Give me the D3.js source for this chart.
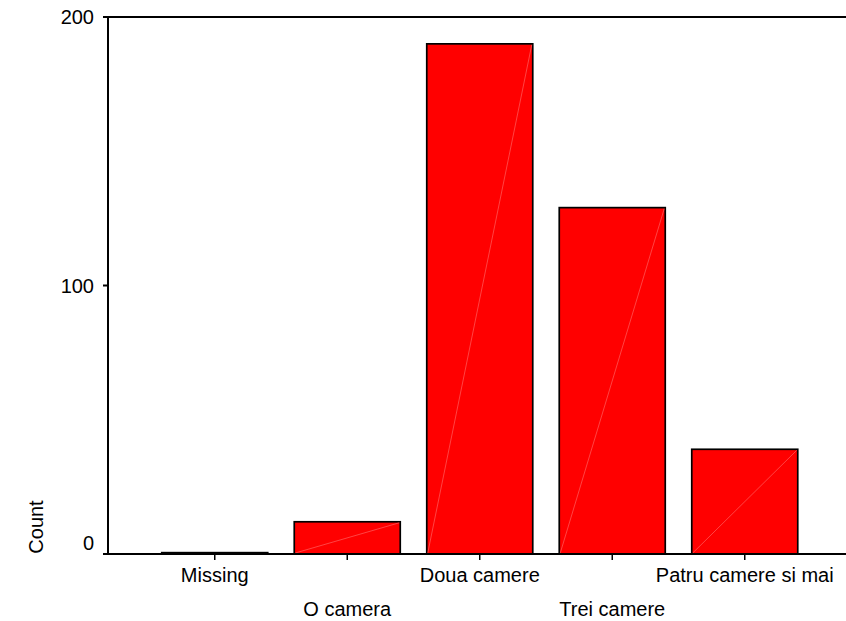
<!DOCTYPE html>
<html>
<head>
<meta charset="utf-8">
<script src="https://cdn.jsdelivr.net/npm/d3@7"></script>
<style>
  body { margin: 0; background: #fff; }
  text { font-family: Arial, "Liberation Sans", Helvetica, sans-serif; }
</style>
</head>
<body>
<div class="chart"></div>
<script>
// Data
const categories = ["Missing", "O camera", "Doua camere", "Trei camere", "Patru camere si mai"];
const counts = [0.5, 12, 190, 129, 39];
const yTicks = [0, 100, 200];

const width = 846;
const height = 621;
const axisLeft = 108;
const axisTop = 17;
const axisBottom = 554;

const svg = d3.select(".chart")
    .append("svg")
    .attr("width", width)
    .attr("height", height);

const x = d3.scaleBand()
    .domain(categories)
    .range([148.5, 811])
    .paddingInner(0.2)
    .paddingOuter(0.1);

const y = d3.scaleLinear()
    .domain([0, 200])
    .range([axisBottom, axisTop]);

const data = categories.map((c, i) => ({ cat: c, value: counts[i] }));

// bars
const bars = svg.append("g").selectAll("g")
    .data(data)
    .join("g");

bars.append("rect")
    .attr("x", d => x(d.cat))
    .attr("y", d => y(d.value))
    .attr("width", x.bandwidth())
    .attr("height", d => y(0) - y(d.value))
    .attr("fill", "#ff0000")
    .attr("stroke", "#000")
    .attr("stroke-width", 1.7);

// faint diagonal seam inside each bar
bars.filter(d => d.value > 3).append("line")
    .attr("x1", d => x(d.cat) + 1)
    .attr("y1", y(0) - 1)
    .attr("x2", d => x(d.cat) + x.bandwidth() - 1)
    .attr("y2", d => y(d.value) + 1)
    .attr("stroke", "#ff7070")
    .attr("stroke-width", 0.6);

// axis frame
svg.append("line")
    .attr("x1", axisLeft).attr("x2", axisLeft)
    .attr("y1", axisTop).attr("y2", axisBottom)
    .attr("stroke", "#000").attr("stroke-width", 2);
svg.append("line")
    .attr("x1", axisLeft - 5).attr("x2", width)
    .attr("y1", axisTop).attr("y2", axisTop)
    .attr("stroke", "#000").attr("stroke-width", 2);
svg.append("line")
    .attr("x1", axisLeft - 5).attr("x2", width)
    .attr("y1", axisBottom).attr("y2", axisBottom)
    .attr("stroke", "#000").attr("stroke-width", 2);

// y ticks
svg.append("g").selectAll("line")
    .data(yTicks)
    .join("line")
    .attr("x1", axisLeft - 5).attr("x2", axisLeft)
    .attr("y1", d => y(d)).attr("y2", d => y(d))
    .attr("stroke", "#000").attr("stroke-width", 2);

svg.append("g").selectAll("text")
    .data(yTicks)
    .join("text")
    .attr("x", 94)
    .attr("y", d => d === 0 ? y(d) - 4 : y(d) + 7)
    .attr("text-anchor", "end")
    .style("font-size", "20px")
    .text(d => d);

// x ticks
svg.append("g").selectAll("line")
    .data(categories)
    .join("line")
    .attr("x1", d => x(d) + x.bandwidth() / 2)
    .attr("x2", d => x(d) + x.bandwidth() / 2)
    .attr("y1", axisBottom).attr("y2", axisBottom + 6)
    .attr("stroke", "#000").attr("stroke-width", 1.5);

svg.append("g").selectAll("text")
    .data(categories)
    .join("text")
    .attr("x", d => x(d) + x.bandwidth() / 2)
    .attr("y", (d, i) => i % 2 === 0 ? 582 : 616)
    .attr("text-anchor", "middle")
    .style("font-size", "20px")
    .text(d => d);

// y title
svg.append("text")
    .attr("transform", "translate(36,527) rotate(-90)")
    .attr("text-anchor", "middle")
    .attr("dy", "0.35em")
    .style("font-size", "20px")
    .text("Count");
</script>
</body>
</html>
